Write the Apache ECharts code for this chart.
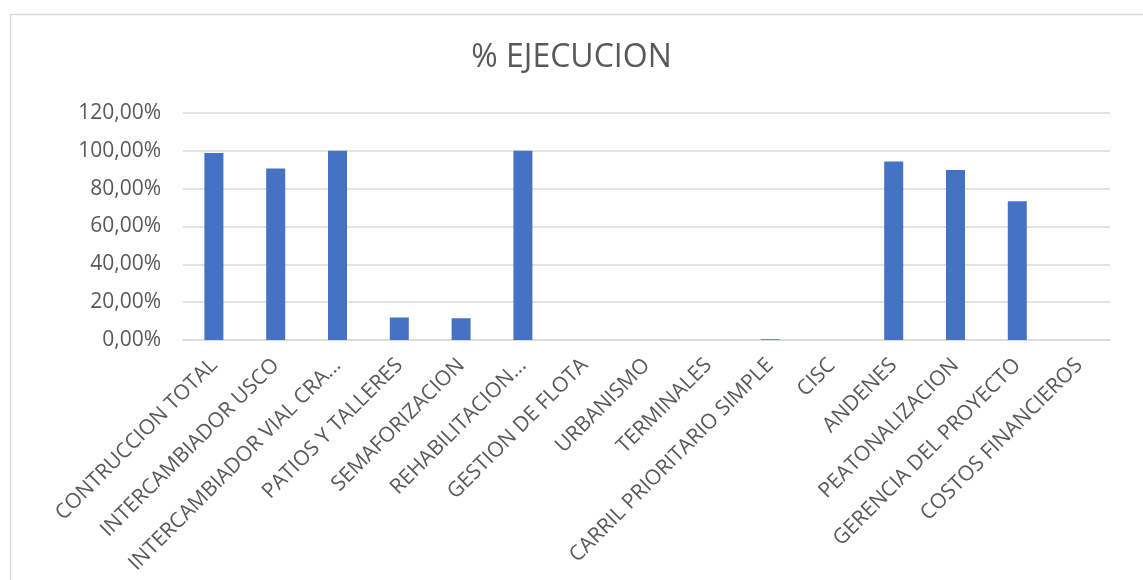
<!DOCTYPE html>
<html>
<head>
<meta charset="utf-8">
<script src="https://cdn.jsdelivr.net/npm/echarts@6/dist/echarts.min.js"></script>
<style>html,body{margin:0;padding:0;background:#fff;}#c{width:1143px;height:580px;}</style>
</head>
<body>
<div id="c"></div>
<script>
var categories = ["CONTRUCCION TOTAL","INTERCAMBIADOR USCO","INTERCAMBIADOR VIAL CRA...","PATIOS Y TALLERES","SEMAFORIZACION","REHABILITACION...","GESTION DE FLOTA","URBANISMO","TERMINALES","CARRIL PRIORITARIO SIMPLE","CISC","ANDENES","PEATONALIZACION","GERENCIA DEL PROYECTO","COSTOS FINANCIEROS"];
var ejecucion = [98.9, 90.6, 100, 11.9, 11.5, 100, 0, 0, 0, 0.4, 0, 94.3, 89.9, 73.3, 0];
var yTicks = [0, 20, 40, 60, 80, 100, 120];

var chart = echarts.init(document.getElementById('c'), null, {renderer:'canvas'});
var fontFam = '"Open Sans", "Noto Sans", sans-serif';
chart.setOption({
  animation: false,
  backgroundColor: '#ffffff',
  graphic: [{
    type: 'rect', left: 8, top: 12, silent: true,
    shape: {width: 1300, height: 700},
    style: {fill: 'none', stroke: '#d9d9d9', lineWidth: 1.5}
  }],
  title: {
    text: '% EJECUCION', left: 'center', top: 37,
    textStyle: {fontFamily: fontFam, fontSize: 32, fontWeight: 'normal', color: '#595959'}
  },
  grid: {left: 183, right: 33, top: 113, bottom: 240, containLabel: false},
  xAxis: {
    type: 'category', data: categories,
    axisLine: {show: true, lineStyle: {color: '#d9d9d9', width: 1.5}},
    axisTick: {show: false},
    axisLabel: {interval: 0, rotate: 45, margin: 22, color: '#595959', fontFamily: fontFam, fontSize: 21}
  },
  yAxis: {
    type: 'value', min: yTicks[0], max: yTicks[yTicks.length - 1], interval: yTicks[1] - yTicks[0],
    axisLine: {show: false}, axisTick: {show: false},
    splitLine: {lineStyle: {color: '#d9d9d9', width: 1.5}},
    axisLabel: {margin: 22, color: '#595959', fontFamily: fontFam, fontSize: 21,
      formatter: function (v) { return v.toFixed(2).replace('.', ',') + '%'; }}
  },
  series: [{
    type: 'bar', data: ejecucion, barWidth: 19,
    itemStyle: {color: '#4472C4'}
  }]
});
</script>
</body>
</html>
